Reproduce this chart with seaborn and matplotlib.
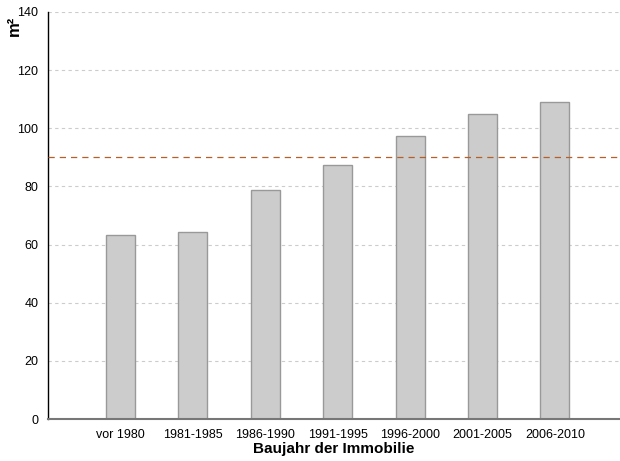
import pandas as pd
import seaborn as sns
import matplotlib.pyplot as plt

# Data
categories = ["vor 1980", "1981-1985", "1986-1990", "1991-1995", "1996-2000", "2001-2005", "2006-2010"]
values = [63.2, 64.4, 78.7, 87.3, 97.5, 104.8, 108.9]
reference_line = 90

df = pd.DataFrame({"Baujahr": categories, "m2": values})

sns.set_style("white")
plt.rcParams['font.family'] = ['Liberation Sans', 'DejaVu Sans']

fig = plt.figure(figsize=(6.2, 4.61), dpi=100)
ax = fig.add_axes([48 / 620, 42 / 461, 572 / 620, 407 / 461])

ax.yaxis.grid(True, linestyle=(0, (3, 3)), color='#cccccc', linewidth=0.8)
ax.set_axisbelow(True)

sns.barplot(data=df, x="Baujahr", y="m2", color='#cccccc', width=0.4,
            edgecolor='#999999', linewidth=1, ax=ax, zorder=2)

ax.axhline(reference_line, color='#b5602a', linestyle=(0, (5, 4)), linewidth=0.9, zorder=3)

ax.set_ylim(0, 140)
ax.set_xlim(-1, 6.9)
ax.set_yticks(range(0, 141, 20))

for s in ['top', 'right']:
    ax.spines[s].set_visible(False)
ax.spines['left'].set_color('black')
ax.spines['left'].set_linewidth(1)
ax.spines['bottom'].set_color('#777777')
ax.spines['bottom'].set_linewidth(1.5)

ax.tick_params(axis='both', direction='out', length=5, width=1, labelsize=9, colors='black', pad=2)
ax.tick_params(axis='x', color='#333333')

ax.set_xlabel("Baujahr der Immobilie", fontsize=11, fontweight='bold', labelpad=1, color='black')
ax.set_ylabel("m²", fontsize=12, fontweight='bold', color='black')
ax.yaxis.set_label_coords(-0.045, 0.965)

fig.savefig("out.png", dpi=100)
